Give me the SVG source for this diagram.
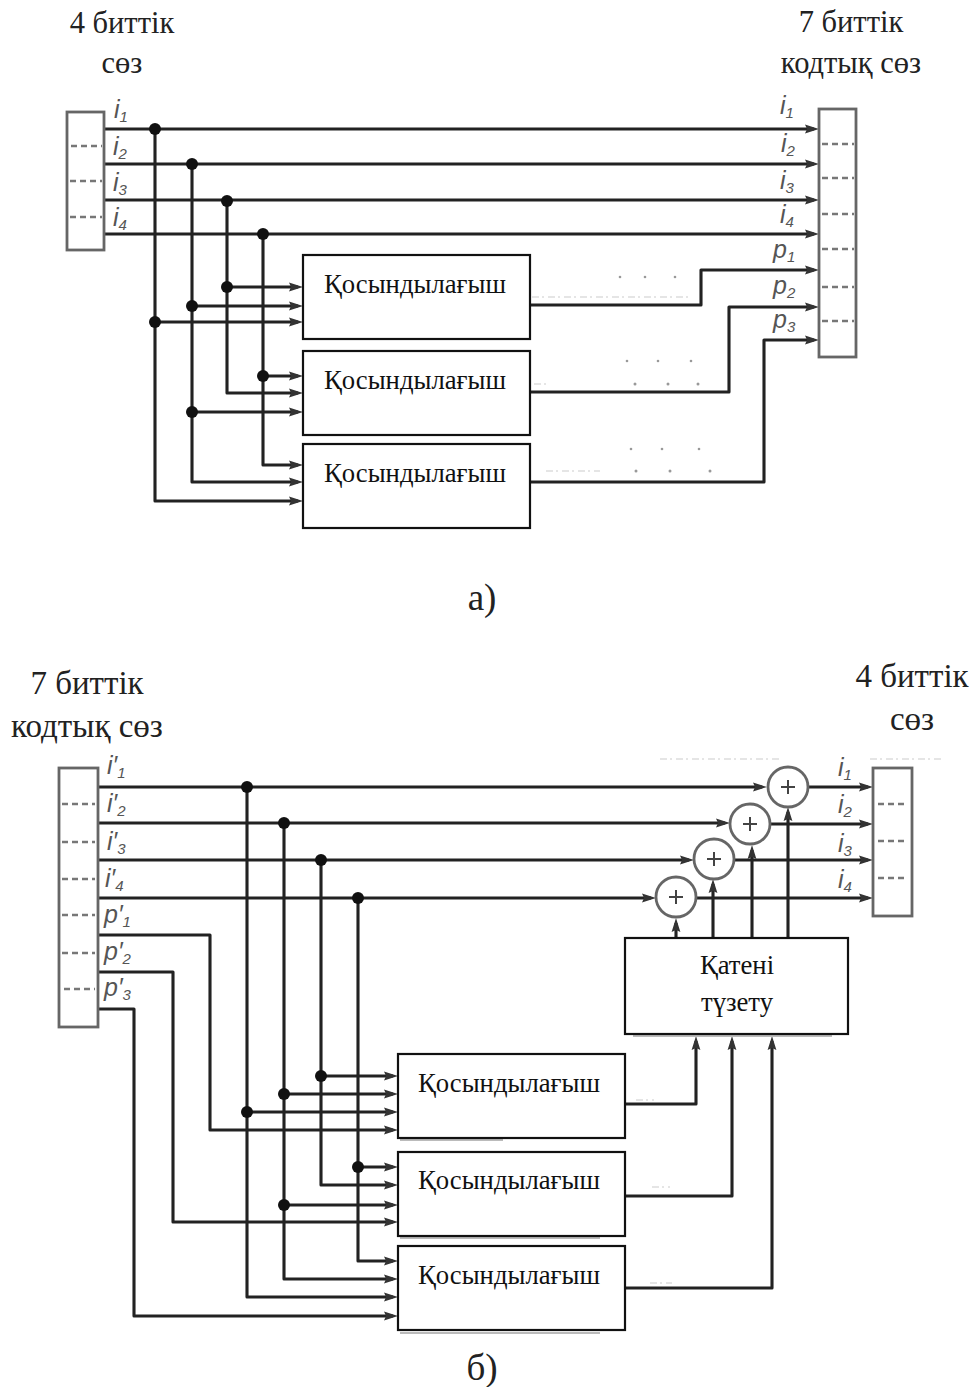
<svg xmlns="http://www.w3.org/2000/svg" width="977" height="1387" viewBox="0 0 977 1387">
<defs>
<marker id="a" markerUnits="userSpaceOnUse" markerWidth="16" markerHeight="12" refX="9" refY="6" orient="auto"><path d="M0 1.6L14 6L0 10.4L2 6z" fill="#333"/></marker>
</defs>
<style>
text{font-family:"Liberation Serif","DejaVu Serif",serif;fill:#111}
.t{font-size:30.5px;text-anchor:middle;fill:#222}
.u{font-size:33px;text-anchor:middle;fill:#222}
.c{font-size:37px;text-anchor:middle;fill:#222}
.b{font-size:26.7px;text-anchor:middle}
.i{font-family:"Liberation Sans","DejaVu Sans",sans-serif;font-style:italic;font-size:25px;fill:#555}
.s{font-size:15px}
.w{fill:none;stroke:#222;stroke-width:3.1;stroke-linejoin:round}
.box{fill:#fff;stroke:#111;stroke-width:2.2}
.shadow{fill:none;stroke:#bbb;stroke-width:2}
.reg{fill:#fff;stroke:#666;stroke-width:2.8}
.dash{fill:none;stroke:#777;stroke-width:2.4;stroke-dasharray:6 4}
.sum{fill:#fff;stroke:#666;stroke-width:2.8}
.plus{fill:none;stroke:#444;stroke-width:2}
.fleck{fill:none;stroke:#ccc;stroke-width:1.2;stroke-dasharray:7 3 2 4}
.fdot{fill:#999}
</style>
<g id="connectors">
<g class="w">
<path d="M104 129H814" marker-end="url(#a)"/>
<path d="M104 164H814" marker-end="url(#a)"/>
<path d="M104 200H814" marker-end="url(#a)"/>
<path d="M104 234H814" marker-end="url(#a)"/>
<path d="M155 129V501H298" marker-end="url(#a)"/>
<path d="M192 164V482H298" marker-end="url(#a)"/>
<path d="M227 200V393H298" marker-end="url(#a)"/>
<path d="M263 234V465H298" marker-end="url(#a)"/>
<path d="M227 287H298" marker-end="url(#a)"/>
<path d="M192 306H298" marker-end="url(#a)"/>
<path d="M155 322H298" marker-end="url(#a)"/>
<path d="M263 376H298" marker-end="url(#a)"/>
<path d="M192 412H298" marker-end="url(#a)"/>
<path d="M530 305H701V270H814" marker-end="url(#a)"/>
<path d="M530 392H729V307H814" marker-end="url(#a)"/>
<path d="M530 482H764V340H814" marker-end="url(#a)"/>
<path d="M98 787H762" marker-end="url(#a)"/>
<path d="M98 823H725" marker-end="url(#a)"/>
<path d="M98 860H689" marker-end="url(#a)"/>
<path d="M98 898H651" marker-end="url(#a)"/>
<path d="M808 787H868" marker-end="url(#a)"/>
<path d="M770 824H868" marker-end="url(#a)"/>
<path d="M734 860H868" marker-end="url(#a)"/>
<path d="M696 898H868" marker-end="url(#a)"/>
<path d="M247 787V1297H393" marker-end="url(#a)"/>
<path d="M284 823V1279H393" marker-end="url(#a)"/>
<path d="M321 860V1185H393" marker-end="url(#a)"/>
<path d="M358 898V1261H393" marker-end="url(#a)"/>
<path d="M98 935H210V1130H393" marker-end="url(#a)"/>
<path d="M98 972H173V1222H393" marker-end="url(#a)"/>
<path d="M98 1009H134V1316H393" marker-end="url(#a)"/>
<path d="M321 1076H393" marker-end="url(#a)"/>
<path d="M284 1094H393" marker-end="url(#a)"/>
<path d="M247 1112H393" marker-end="url(#a)"/>
<path d="M358 1167H393" marker-end="url(#a)"/>
<path d="M284 1205H393" marker-end="url(#a)"/>
<path d="M625 1104H696V1041" marker-end="url(#a)"/>
<path d="M625 1196H732V1041" marker-end="url(#a)"/>
<path d="M625 1288H772V1041" marker-end="url(#a)"/>
<path d="M676 938V923" marker-end="url(#a)"/>
<path d="M713 938V884" marker-end="url(#a)"/>
<path d="M752 938V850" marker-end="url(#a)"/>
<path d="M788 938V812" marker-end="url(#a)"/>
</g>
<g fill="#111">
<circle cx="155" cy="129" r="6"/><circle cx="192" cy="164" r="6"/><circle cx="227" cy="201" r="6"/><circle cx="263" cy="234" r="6"/>
<circle cx="227" cy="287" r="6"/><circle cx="192" cy="306" r="6"/><circle cx="155" cy="322" r="6"/><circle cx="263" cy="376" r="6"/><circle cx="192" cy="412" r="6"/>
<circle cx="247" cy="787" r="6"/><circle cx="284" cy="823" r="6"/><circle cx="321" cy="860" r="6"/><circle cx="358" cy="898" r="6"/>
<circle cx="321" cy="1076" r="6"/><circle cx="284" cy="1094" r="6"/><circle cx="247" cy="1112" r="6"/><circle cx="358" cy="1167" r="6"/><circle cx="284" cy="1205" r="6"/>
</g>
</g>
<g id="reg-a-in"><rect class="reg" x="67" y="112" width="37" height="138"/><path class="dash" d="M71 146H102M70 181H102M70 217H102"/></g>
<g id="reg-a-out"><rect class="reg" x="819" y="109" width="37" height="248"/><path class="dash" d="M822 144H854M822 178H854M822 214H854M822 249H854M822 287H854M822 321H854"/></g>
<g id="reg-b-in"><rect class="reg" x="59" y="768" width="39" height="259"/><path class="dash" d="M62 804H95M62 842H95M62 879H95M62 915H95M62 953H95M64 989H95"/></g>
<g id="reg-b-out"><rect class="reg" x="873" y="768" width="39" height="148"/><path class="dash" d="M878 804H908M878 841H908M878 878H908"/></g>
<g id="add-a1"><rect class="box" x="303" y="255" width="227" height="84"/><text class="b" x="415" y="293">Қосындылағыш</text></g>
<g id="add-a2"><rect class="box" x="303" y="351" width="227" height="84"/><text class="b" x="415" y="389">Қосындылағыш</text></g>
<g id="add-a3"><rect class="box" x="303" y="444" width="227" height="84"/><text class="b" x="415" y="482">Қосындылағыш</text></g>
<g id="add-b1"><path class="shadow" d="M400 1140H503"/><rect class="box" x="398" y="1054" width="227" height="84"/><text class="b" x="509" y="1092">Қосындылағыш</text></g>
<g id="add-b2"><path class="shadow" d="M400 1238H600"/><rect class="box" x="398" y="1152" width="227" height="84"/><text class="b" x="509" y="1189">Қосындылағыш</text></g>
<g id="add-b3"><path class="shadow" d="M400 1333H600"/><rect class="box" x="398" y="1246" width="227" height="84"/><text class="b" x="509" y="1284">Қосындылағыш</text></g>
<g id="correct"><path class="shadow" d="M633 1036H832"/><rect class="box" x="625" y="938" width="223" height="96"/><text class="b" x="737" y="974">Қатені</text><text class="b" x="737" y="1011">түзету</text></g>
<g id="sum1"><circle class="sum" cx="788" cy="787" r="20"/><path class="plus" d="M781 787H795M788 780V794"/></g>
<g id="sum2"><circle class="sum" cx="750" cy="824" r="20"/><path class="plus" d="M743 824H757M750 817V831"/></g>
<g id="sum3"><circle class="sum" cx="714" cy="859" r="20"/><path class="plus" d="M707 859H721M714 852V866"/></g>
<g id="sum4"><circle class="sum" cx="676" cy="897" r="20"/><path class="plus" d="M669 897H683M676 890V904"/></g>
<g id="flecks">
<path class="fleck" d="M532 297H690M534 384H548M546 471H600M636 1100H654M652 1187H670M650 1283H672M660 759H780M870 759H942"/>
<g class="fdot"><circle cx="620" cy="277" r="1.3"/><circle cx="645" cy="277" r="1.3"/><circle cx="675" cy="277" r="1.3"/><circle cx="627" cy="361" r="1.3"/><circle cx="658" cy="361" r="1.3"/><circle cx="691" cy="361" r="1.3"/><circle cx="635" cy="384" r="1.5"/><circle cx="668" cy="384" r="1.5"/><circle cx="698" cy="384" r="1.5"/><circle cx="631" cy="449" r="1.3"/><circle cx="662" cy="449" r="1.3"/><circle cx="699" cy="449" r="1.3"/><circle cx="636" cy="471" r="1.5"/><circle cx="670" cy="471" r="1.5"/><circle cx="710" cy="471" r="1.5"/></g>
</g>
<g id="labels">
<text class="t" x="122" y="33">4 биттік</text><text class="t" x="122" y="73">сөз</text>
<text class="t" x="851" y="32">7 биттік</text><text class="t" x="851" y="73">кодтық сөз</text>
<text class="c" x="482" y="610">а)</text>
<text class="u" x="87" y="694">7 биттік</text><text class="u" x="87" y="737">кодтық сөз</text>
<text class="u" x="912" y="687">4 биттік</text><text class="u" x="912" y="730">сөз</text>
<text class="c" x="482" y="1380">б)</text>
<text class="i" x="114" y="118">i<tspan class="s" dy="4">1</tspan></text>
<text class="i" x="113" y="155">i<tspan class="s" dy="4">2</tspan></text>
<text class="i" x="113" y="191">i<tspan class="s" dy="4">3</tspan></text>
<text class="i" x="113" y="226">i<tspan class="s" dy="4">4</tspan></text>
<text class="i" x="780" y="114">i<tspan class="s" dy="4">1</tspan></text>
<text class="i" x="781" y="152">i<tspan class="s" dy="4">2</tspan></text>
<text class="i" x="780" y="189">i<tspan class="s" dy="4">3</tspan></text>
<text class="i" x="780" y="223">i<tspan class="s" dy="4">4</tspan></text>
<text class="i" x="773" y="258">p<tspan class="s" dy="4">1</tspan></text>
<text class="i" x="773" y="294">p<tspan class="s" dy="4">2</tspan></text>
<text class="i" x="773" y="328">p<tspan class="s" dy="4">3</tspan></text>
<text class="i" x="107" y="774">i′<tspan class="s" dy="4">1</tspan></text>
<text class="i" x="107" y="812">i′<tspan class="s" dy="4">2</tspan></text>
<text class="i" x="107" y="850">i′<tspan class="s" dy="4">3</tspan></text>
<text class="i" x="105" y="887">i′<tspan class="s" dy="4">4</tspan></text>
<text class="i" x="104" y="923">p′<tspan class="s" dy="4">1</tspan></text>
<text class="i" x="104" y="960">p′<tspan class="s" dy="4">2</tspan></text>
<text class="i" x="104" y="996">p′<tspan class="s" dy="4">3</tspan></text>
<text class="i" x="838" y="776">i<tspan class="s" dy="4">1</tspan></text>
<text class="i" x="838" y="813">i<tspan class="s" dy="4">2</tspan></text>
<text class="i" x="838" y="852">i<tspan class="s" dy="4">3</tspan></text>
<text class="i" x="838" y="888">i<tspan class="s" dy="4">4</tspan></text>
</g>
</svg>
